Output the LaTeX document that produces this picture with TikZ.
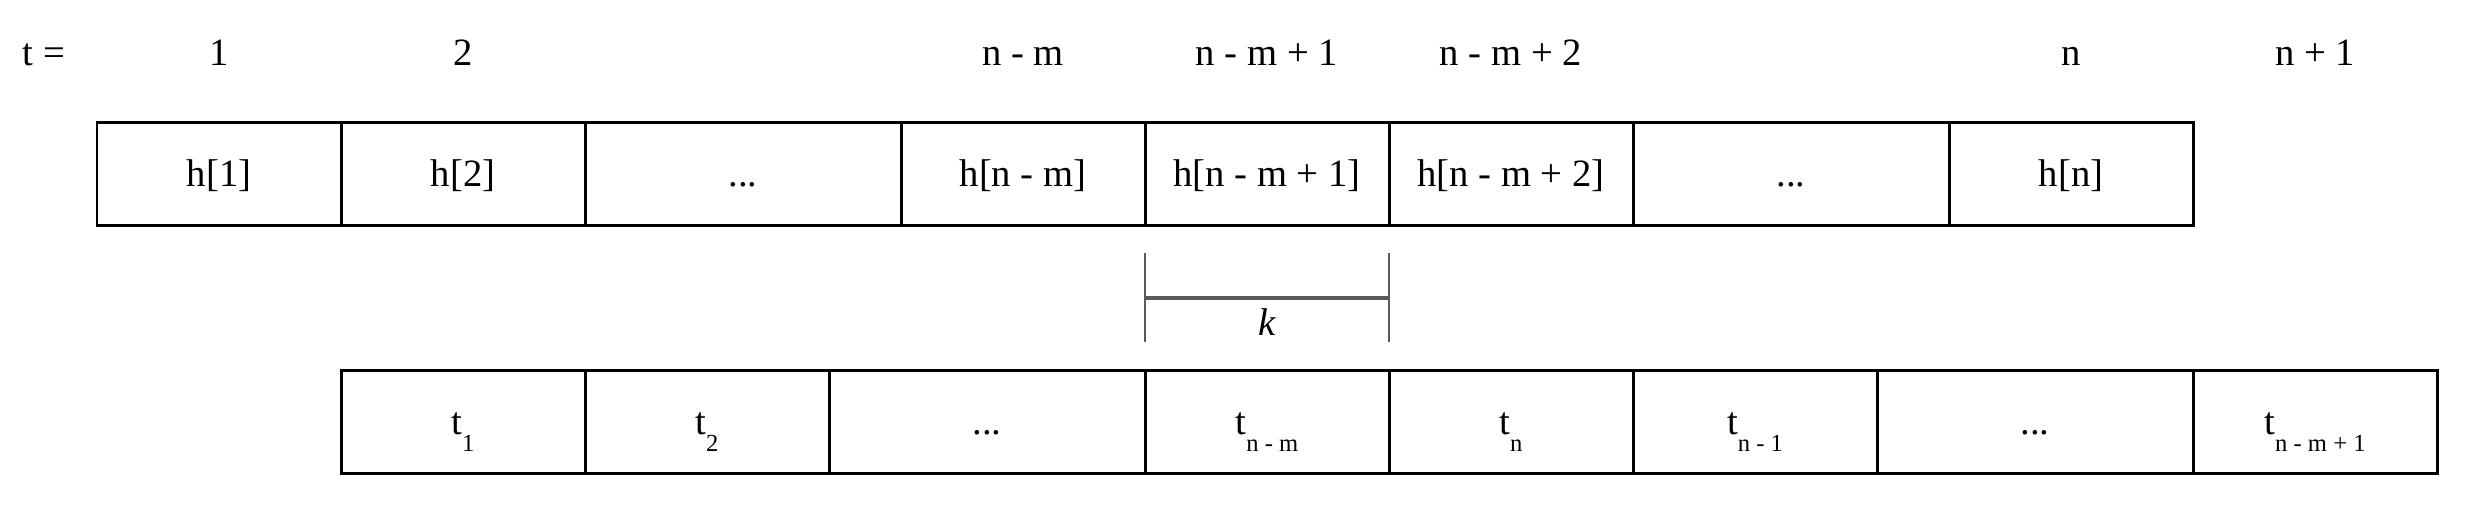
\documentclass[tikz,border=0pt]{standalone}
\usepackage{fontspec}
\setmainfont{Liberation Serif}
\definecolor{bgray}{HTML}{5A5A5A}
\newcommand\tsub[1]{t\raisebox{-4.8pt}{\fontsize{7}{8}\selectfont #1}}
\begin{document}
\begin{tikzpicture}[x=0.1mm,y=-0.1mm,
  cell/.style={draw=black,line width=0.85pt,rectangle,inner sep=0pt,outer sep=0pt,
    minimum height=10.3mm,minimum width=24.4mm,font=\fontsize{11}{13}\selectfont,
    text height=9.6pt,text depth=2pt},
  wide/.style={minimum width=31.6mm},
  lab/.style={anchor=base,font=\fontsize{11}{13}\selectfont,inner sep=0pt},
  brk/.style={draw=bgray,line width=0.6pt},
  brkh/.style={draw=bgray,line width=0.9pt}]
\useasboundingbox (0,0) rectangle (2469,512);
% time labels
\node[lab,anchor=base west] (tl) at (22,65) {t =};
\node[lab] (l1) at (219,65) {1};
\node[lab] (l2) at (463,65) {2};
\node[lab] (lnm) at (1023,65) {n - m};
\node[lab] (lnm1) at (1267,65) {n - m + 1};
\node[lab] (lnm2) at (1511,65) {n - m + 2};
\node[lab] (ln) at (2071,65) {n};
\node[lab] (ln1) at (2315,65) {n + 1};
% top row
\node[cell] (h1) at (219,173.5) {h[1]};
\node[cell] (h2) at (463,173.5) {h[2]};
\node[cell,wide] (hd1) at (743,173.5) {...};
\node[cell] (hnm) at (1023,173.5) {h[n - m]};
\node[cell] (hnm1) at (1267,173.5) {h[n - m + 1]};
\node[cell] (hnm2) at (1511,173.5) {h[n - m + 2]};
\node[cell,wide] (hd2) at (1791,173.5) {...};
\node[cell] (hn) at (2071,173.5) {h[n]};
% bottom row
\node[cell] (t1) at (463,421.5) {\tsub{1}};
\node[cell] (t2) at (707,421.5) {\tsub{2}};
\node[cell,wide] (td1) at (987,421.5) {...};
\node[cell] (tnm) at (1267,421.5) {\tsub{n - m}};
\node[cell] (tn) at (1511,421.5) {\tsub{n}};
\node[cell] (tn1) at (1755,421.5) {\tsub{n - 1}};
\node[cell,wide] (td2) at (2035,421.5) {...};
\node[cell] (tnm1) at (2315,421.5) {\tsub{n - m + 1}};
% k bracket
\coordinate (kLt) at (1145,253);
\coordinate (kLb) at (1145,342);
\coordinate (kRt) at (1389,253);
\coordinate (kRb) at (1389,342);
\coordinate (kLm) at (1145,298);
\coordinate (kRm) at (1389,298);
\draw[brk] (kLt) -- (kLb);
\draw[brk] (kRt) -- (kRb);
\draw[brkh] (kLm) -- (kRm);
\node[font=\fontsize{11}{13}\selectfont\itshape,inner sep=0pt] (k) at (1267,322) {k};
\end{tikzpicture}
\end{document}
